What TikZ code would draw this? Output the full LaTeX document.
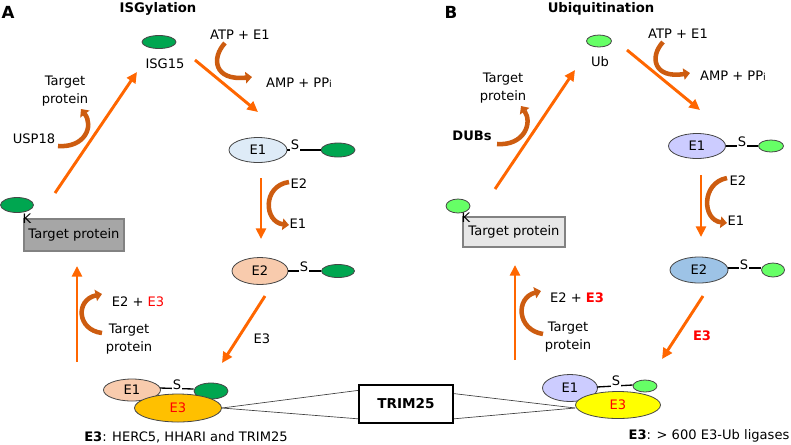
\documentclass[tikz,border=0pt]{standalone}
\usepackage{fontspec}
\setmainfont{DejaVu Sans}
\usetikzlibrary{arrows.meta,shapes.geometric,calc}
\definecolor{orng}{RGB}{255,102,0}
\definecolor{curv}{RGB}{205,92,16}
\definecolor{isg}{RGB}{0,166,80}
\definecolor{ubg}{RGB}{102,255,102}
\definecolor{eone}{RGB}{222,235,247}
\definecolor{etwo}{RGB}{248,203,173}
\definecolor{ethree}{RGB}{255,192,0}
\definecolor{eoneb}{RGB}{204,204,255}
\definecolor{etwob}{RGB}{157,195,230}
\definecolor{ethreeb}{RGB}{255,255,0}
\definecolor{ellgray}{RGB}{70,70,70}
\definecolor{boxa}{RGB}{166,166,166}
\definecolor{boxb}{RGB}{231,231,231}
\definecolor{boxline}{RGB}{130,130,130}
\definecolor{redt}{RGB}{255,0,0}
\begin{document}
\begin{tikzpicture}[x=0.75pt,y=-0.75pt,
  txt/.style={font=\fontsize{9.8pt}{13pt}\selectfont, inner sep=0pt, align=center},
  btxt/.style={txt, font=\fontsize{9.8pt}{13pt}\selectfont\bfseries},
  ttl/.style={inner sep=0pt, font=\fontsize{9.9pt}{12pt}\selectfont\bfseries},
  panel/.style={inner sep=0pt, font=\fontsize{12.5pt}{14pt}\selectfont\bfseries},
  sz/.style 2 args={minimum width=#1*0.75pt, minimum height=#2*0.75pt},
  ell/.style={ellipse, draw=ellgray, line width=0.6pt, inner sep=0pt, font=\fontsize{9.8pt}{11pt}\selectfont},
  tbox/.style={rectangle, draw=boxline, line width=0.8pt, inner sep=0pt, font=\fontsize{9.8pt}{11pt}\selectfont},
  orarrow/.style={draw=orng, line width=2.2pt, -{Triangle[length=8pt,width=7.5pt]}},
  curarrow/.style={draw=curv, line width=3.4pt, -{Triangle[length=4.8pt,width=8.5pt]}},
  sline/.style={draw=black, line width=1pt},
  slab/.style={txt, fill=white, inner sep=0.8pt},
  tline/.style={draw=black!75, line width=0.5pt}]
\useasboundingbox (0,0) rectangle (791,444);

% ---------------- Panel A ----------------
\node[panel] (labA) at (8,12) {A};
\node[ttl] (ttlA) at (158,9) {ISGylation};
\node[ell, fill=isg, sz={34}{13}] (isg) at (159,42) {};
\node[txt] (isgt) at (165,64) {ISG15};
\node[txt] (atpA) at (240,35) {ATP + E1};
\node[txt] (ampA) at (299,83) {AMP + PP\raisebox{-0.3pt}{\fontsize{7.2pt}{8pt}\selectfont i}};

\node[ell, fill=eone, sz={58}{25}] (e1A) at (258,150) {E1};
\node[ell, fill=isg, sz={34}{14}] (g1A) at (338,150) {};
\draw[sline] (e1A.east) -- (g1A.west);
\node[slab] (s1A) at (295,145) {S};

\node[txt] (e2lA) at (299,184) {E2};
\node[txt] (e1lA) at (298,224) {E1};

\node[ell, fill=etwo, sz={56}{27}] (e2A) at (260,271) {E2};
\node[ell, fill=isg, sz={33}{13}] (g2A) at (338,271) {};
\draw[sline] (e2A.east) -- (g2A.west);
\node[slab] (s2A) at (304,267) {S};

\node[txt] (e3lA) at (262,339) {E3};

\node[tbox, fill=boxa, sz={100}{32}] (tpA) at (74,235) {Target protein};
\node[ell, fill=isg, sz={33}{15}] (gkA) at (17,205) {};
\node[txt] (kA) at (27,219) {K};

\node[txt] (tp1A) at (65,91) {Target\\protein};
\node[txt] (usp) at (34,139) {USP18};

\node[txt] (e2e3A) at (138,302) {E2 + \textcolor{redt}{E3}};
\node[txt] (tp2A) at (129,339) {Target\\protein};

% bottom complex A
\node[ell, fill=etwo, sz={57}{22}] (be1A) at (132,390) {E1};
\node[ell, fill=isg, sz={34}{16}] (bgA) at (211,391) {};
\draw[sline] ($(be1A.east)+(-1,-2)$) -- ($(bgA.west)+(0,-2)$);
\node[ell, fill=ethree, sz={87}{28}, text=redt] (be3A) at (178,408) {E3};
\node[slab] (bsA) at (177,385) {S};
\node[txt] (e3listA) at (186,437) {\textbf{E3}: HERC5, HHARI and TRIM25};

% TRIM25
\node[rectangle, draw=black, line width=1.5pt, sz={94}{38}, inner sep=0pt, font=\fontsize{10.2pt}{12pt}\selectfont\bfseries] (trim) at (406,404) {TRIM25};

% arrows A
\coordinate (a1s) at (55,193); \coordinate (a1e) at (137,72);
\coordinate (a2s) at (195,60); \coordinate (a2e) at (258,112);
\coordinate (a3s) at (261,178); \coordinate (a3e) at (261,239);
\coordinate (a4s) at (265,296); \coordinate (a4e) at (222,363);
\coordinate (a5s) at (77,362); \coordinate (a5e) at (77,266);
\draw[orarrow] (a1s) -- (a1e);
\draw[orarrow] (a2s) -- (a2e);
\draw[orarrow] (a3s) -- (a3e);
\draw[orarrow] (a4s) -- (a4e);
\draw[orarrow] (a5s) -- (a5e);

\coordinate (c1s) at (225,43); \coordinate (c1e) at (252,77);
\coordinate (c2s) at (289,182); \coordinate (c2e) at (289,225);
\coordinate (c3s) at (58,146); \coordinate (c3e) at (81,109);
\coordinate (c4s) at (102,333); \coordinate (c4e) at (102,294);
\draw[curarrow] (c1s) .. controls (211,58) and (214,81) .. (c1e);
\draw[curarrow] (c2s) .. controls (262,186) and (264,222) .. (c2e);
\draw[curarrow] (c3s) .. controls (85,148) and (94,126) .. (c3e);
\draw[curarrow] (c4s) .. controls (77,330) and (75,300) .. (c4e);

% ---------------- Panel B ----------------
\node[panel] (labB) at (451,12) {B};
\node[ttl] (ttlB) at (601,9) {Ubiquitination};
\node[ell, fill=ubg, sz={25}{12}] (ub) at (599,41) {};
\node[txt] (ubt) at (600,62) {Ub};
\node[txt] (atpB) at (678,34) {ATP + E1};
\node[txt] (ampB) at (733,76) {AMP + PP\raisebox{-0.3pt}{\fontsize{7.2pt}{8pt}\selectfont i}};

\node[ell, fill=eoneb, sz={57}{25}] (e1B) at (697,146) {E1};
\node[ell, fill=ubg, sz={25}{12}] (g1B) at (771,146) {};
\draw[sline] (e1B.east) -- (g1B.west);
\node[slab] (s1B) at (742,142) {S};

\node[txt] (e2lB) at (738,181) {E2};
\node[txt] (e1lB) at (736,221) {E1};

\node[ell, fill=etwob, sz={58}{26}] (e2B) at (699,270) {E2};
\node[ell, fill=ubg, sz={23}{14}] (g2B) at (773,270) {};
\draw[sline] ($(e2B.east)+(0,-2)$) -- ($(g2B.west)+(0,-2)$);
\node[slab] (s2B) at (744,265) {S};

\node[txt, font=\fontsize{9.8pt}{11pt}\selectfont\bfseries, text=redt] (e3lB) at (702,336) {E3};

\node[tbox, fill=boxb, sz={102}{30}] (tpB) at (514,232) {Target protein};
\node[ell, fill=ubg, sz={24}{14}] (gkB) at (458,206) {};
\node[txt] (kB) at (466,218) {K};

\node[txt] (tp1B) at (503,88) {Target\\protein};
\node[btxt] (dubs) at (472,136) {DUBs};

\node[txt] (e2e3B) at (577,298) {E2 + \textcolor{redt}{\textbf{E3}}};
\node[txt] (tp2B) at (568,337) {Target\\protein};

% bottom complex B
\node[ell, fill=eoneb, sz={55}{27}] (be1B) at (570,388) {E1};
\node[ell, fill=ubg, sz={24}{12}] (bgB) at (645,386) {};
\draw[sline] ($(be1B.east)+(-1,-1)$) -- ($(bgB.west)+(0,-1)$);
\node[ell, fill=ethreeb, sz={85}{27}, text=redt] (be3B) at (618,405) {E3};
\node[slab] (bsB) at (616,381) {S};
\node[txt] (e3listB) at (709,436) {\textbf{E3}: > 600 E3-Ub ligases};

% TRIM25 connections
\draw[tline] (be3A.east) -- ($(trim.north west)!0.16!(trim.south west)$);
\draw[tline] (be3A.east) -- ($(trim.north west)!0.87!(trim.south west)$);
\draw[tline] ($(trim.north east)!0.24!(trim.south east)$) -- ($(be3B.west)+(0,3)$);
\draw[tline] ($(trim.north east)!0.87!(trim.south east)$) -- ($(be3B.west)+(0,3)$);

% arrows B
\coordinate (b1s) at (495,189); \coordinate (b1e) at (575,70);
\coordinate (b2s) at (627,50); \coordinate (b2e) at (700,110);
\coordinate (b3s) at (701,175); \coordinate (b3e) at (701,237);
\coordinate (b4s) at (703,296); \coordinate (b4e) at (662,359);
\coordinate (b5s) at (515,360); \coordinate (b5e) at (515,265);
\draw[orarrow] (b1s) -- (b1e);
\draw[orarrow] (b2s) -- (b2e);
\draw[orarrow] (b3s) -- (b3e);
\draw[orarrow] (b4s) -- (b4e);
\draw[orarrow] (b5s) -- (b5e);

\coordinate (d1s) at (663,42); \coordinate (d1e) at (690,73);
\coordinate (d2s) at (727,178); \coordinate (d2e) at (727,223);
\coordinate (d3s) at (497,144); \coordinate (d3e) at (521,106);
\coordinate (d4s) at (543,334); \coordinate (d4e) at (541,291);
\draw[curarrow] (d1s) .. controls (649,57) and (654,79) .. (d1e);
\draw[curarrow] (d2s) .. controls (701,183) and (702,220) .. (d2e);
\draw[curarrow] (d3s) .. controls (524,146) and (533,123) .. (d3e);
\draw[curarrow] (d4s) .. controls (517,330) and (515,298) .. (d4e);
\end{tikzpicture}
\end{document}
